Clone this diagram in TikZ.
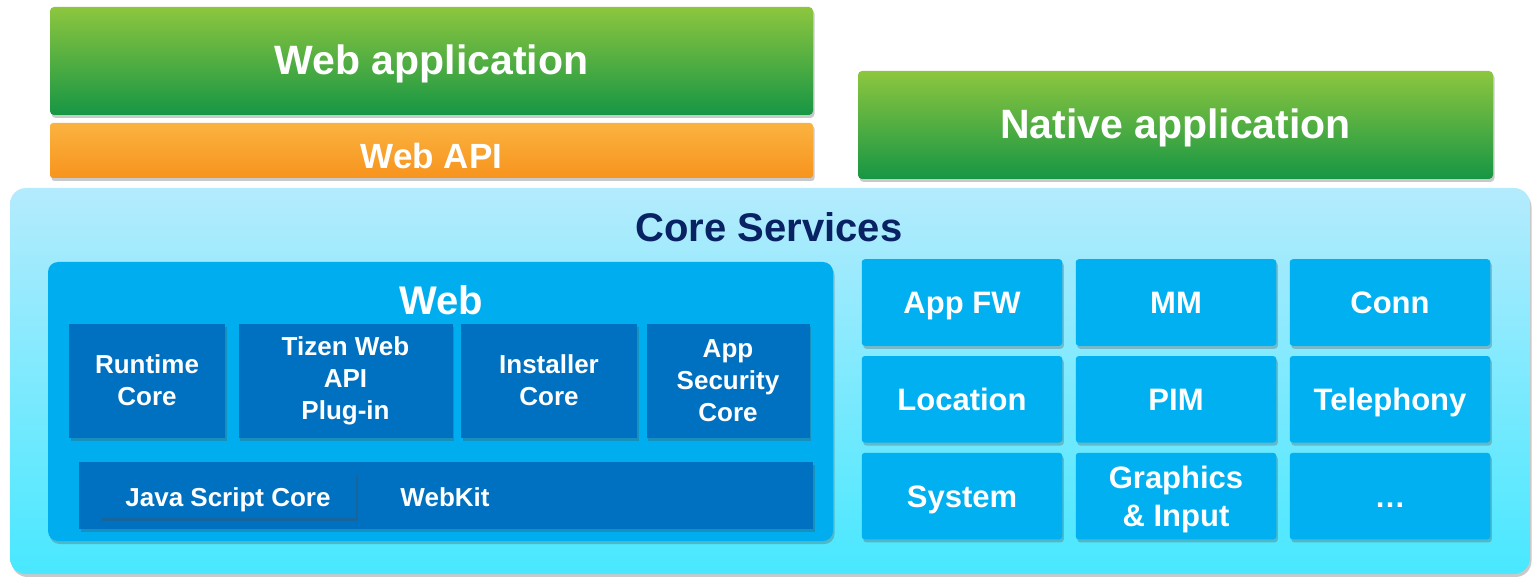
\documentclass[tikz,border=0pt]{standalone}
\usepackage{fontspec}
\setmainfont{Liberation Sans}
\usetikzlibrary{positioning,shadows}

\definecolor{greentop}{RGB}{141,198,63}
\definecolor{greenbot}{RGB}{22,150,68}
\definecolor{orangetop}{RGB}{251,178,64}
\definecolor{orangebot}{RGB}{247,148,30}
\definecolor{coretop}{RGB}{180,235,253}
\definecolor{corebot}{RGB}{72,232,255}
\definecolor{navy}{RGB}{8,34,100}
\definecolor{webblue}{RGB}{0,174,239}
\definecolor{darkblue}{RGB}{0,112,192}
\definecolor{tileblue}{RGB}{0,176,240}

\tikzset{
  softshadow/.style={drop shadow={shadow xshift=1.5pt, shadow yshift=-3pt, opacity=0.3, fill=black!70}},
  appbox/.style={rounded corners=4pt, top color=greentop, bottom color=greenbot, softshadow,
    text=white, inner sep=0pt, text height=27pt, text depth=0pt, font=\fontsize{41}{48}\selectfont\bfseries},
  apibox/.style={rounded corners=3pt, top color=orangetop, bottom color=orangebot, softshadow,
    text=white, inner sep=0pt, text height=36pt, text depth=0pt, font=\fontsize{35}{42}\selectfont\bfseries},
  corebox/.style={rounded corners=16pt, top color=coretop, bottom color=corebot, softshadow, inner sep=0pt},
  webbox/.style={rounded corners=10pt, fill=webblue, softshadow, inner sep=0pt},
  modbox/.style={fill=darkblue, softshadow, text=white, align=center, inner sep=0pt,
    minimum height=114pt, font=\fontsize{26}{32}\selectfont\bfseries},
  tile/.style={rounded corners=3pt, fill=tileblue, softshadow, text=white, align=center, inner sep=0pt,
    minimum width=200.5pt, minimum height=86.5pt, font=\fontsize{31}{38}\selectfont\bfseries},
  oneline/.style={text height=22.2pt, text depth=0pt},
  title/.style={font=\fontsize{40}{48}\selectfont\bfseries}
}

\begin{document}
\begin{tikzpicture}[x=1pt, y=-1pt]
  \useasboundingbox (0,0) rectangle (1533,577);

  % application layer
  \node[appbox, minimum width=763pt, minimum height=108pt] (webapp) at (431.5,61) {Web application};
  \node[apibox, minimum width=763pt, minimum height=55pt] (webapi) at (431.5,150.5) {Web API};
  \node[appbox, minimum width=635pt, minimum height=108pt] (nativeapp) at (1175.5,125) {Native application};

  % core services
  \node[corebox, minimum width=1520pt, minimum height=386pt] (core) at (770,381) {};
  \node[title, text=navy] (coretitle) at (769,227) {Core Services};

  % web block
  \node[webbox, minimum width=785pt, minimum height=279pt] (web) at (440.5,401.5) {};
  \node[title, text=white] (webtitle) at (441,300) {Web};

  \node[modbox, minimum width=156pt] (runtime) at (147,380.5) {Runtime\\Core};
  \node[modbox, minimum width=214pt] (tizenapi) at (345.5,380.5) {Tizen Web\\API\\Plug-in};
  \node[modbox, minimum width=176pt] (installer) at (549,380.5) {Installer\\Core};
  \node[modbox, minimum width=163pt] (appsec) at (728,380.5) {App\\Security\\Core};

  \node[modbox, minimum width=734pt, minimum height=67pt] (webkit) at (446,495.5) {};
  \node[modbox, minimum width=256pt, minimum height=46pt, text height=22.6pt, text depth=0pt] (jscore) at (228,495) {Java Script Core};
  \node[text=white, text height=18.6pt, text depth=0pt, font=\fontsize{26}{32}\selectfont\bfseries] (webkitlabel) at (445,497) {WebKit};

  % native modules
  \foreach \name/\col/\row/\txt in {appfw/0/0/App FW, mm/1/0/MM, conn/2/0/Conn,
      location/0/1/Location, pim/1/1/PIM, telephony/2/1/Telephony,
      system/0/2/System, more/2/2/…}
    \node[tile, oneline] (\name) at ({962+214*\col},{302.5+96.8*\row}) {\txt};
  \node[tile, text depth=0pt] (graphics) at (1176,496.1) {Graphics\\\& Input};
\end{tikzpicture}
\end{document}
